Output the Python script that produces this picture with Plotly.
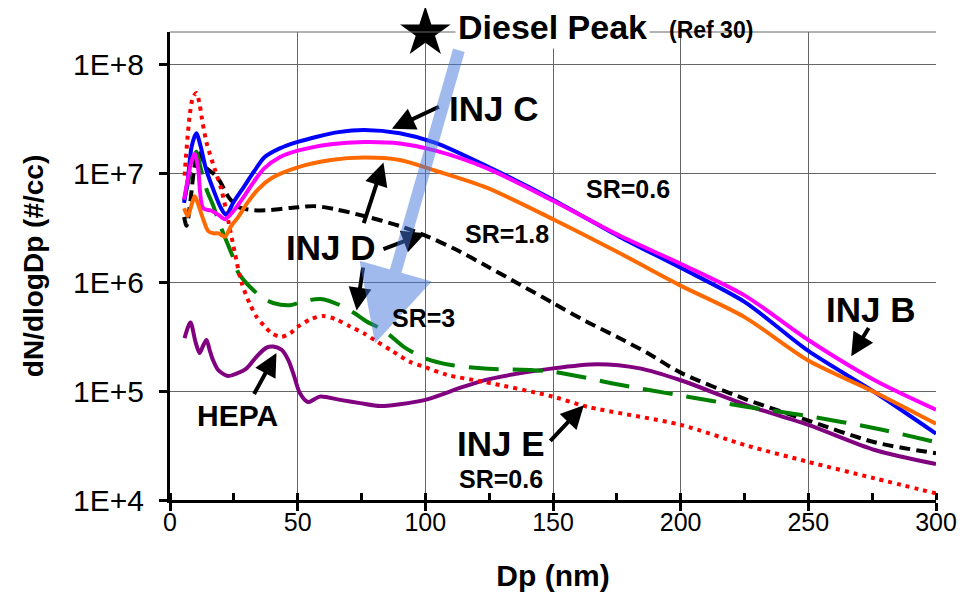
import plotly.graph_objects as go

# ---------------- data ----------------
# Particle diameter Dp (nm) and dN/dlogDp (#/cc)
injc_x = [5.5, 7, 8.5, 10.3, 12, 14, 17, 20, 22, 25, 29, 33, 37, 43, 50, 58, 66, 76, 90, 104,
          124, 150, 176, 200, 225, 250, 276, 300]
injc_y = [5.37e6, 8.91e6, 1.78e7, 2.34e7, 1.78e7, 1.12e7, 7.08e6, 4.79e6, 4.17e6, 5.50e6,
          7.59e6, 1.05e7, 1.41e7, 1.70e7, 1.95e7, 2.19e7, 2.40e7, 2.51e7, 2.34e7, 1.91e7,
          1.17e7, 5.75e6, 2.63e6, 1.36e6, 6.61e5, 2.34e5, 9.77e4, 4.07e4]

injb_x = [5.5, 7, 8.5, 9.7, 11, 13, 16, 19, 21.5, 25, 29, 33, 37, 43, 50, 63, 76, 90, 104,
          124, 150, 176, 200, 225, 250, 276, 300]
injb_y = [5.75e6, 8.91e6, 1.32e7, 1.51e7, 1.12e7, 4.79e6, 4.57e6, 4.17e6, 3.80e6, 4.57e6,
          6.17e6, 8.51e6, 1.12e7, 1.41e7, 1.62e7, 1.86e7, 1.95e7, 1.89e7, 1.62e7, 1.12e7,
          5.62e6, 2.69e6, 1.48e6, 7.59e5, 2.95e5, 1.26e5, 6.76e4]

injd06_x = [5.5, 7, 8.3, 9.7, 11, 13, 15, 17, 19, 21.5, 24, 26.7, 30, 34.5, 40, 50, 63, 76, 90,
            104, 124, 150, 176, 200, 225, 250, 276, 300]
injd06_y = [4.79e6, 4.07e6, 5.01e6, 6.17e6, 5.25e6, 3.80e6, 2.95e6, 2.82e6, 2.82e6, 2.63e6,
            3.31e6, 3.98e6, 5.25e6, 7.16e6, 9.12e6, 1.14e7, 1.33e7, 1.40e7, 1.33e7, 1.06e7,
            7.41e6, 3.80e6, 1.86e6, 9.33e5, 4.79e5, 1.91e5, 9.77e4, 5.01e4]

injd18_x = [5.5, 6.5, 8, 9.5, 11, 12.5, 14.3, 17, 19.5, 23, 27, 35, 48, 57, 65, 76, 90, 100,
            112, 124, 137, 150, 163, 175, 187, 200, 225, 250, 276, 300]
injd18_y = [3.98e6, 3.31e6, 5.62e6, 1.12e7, 1.58e7, 1.41e7, 1.12e7, 1.00e7, 8.51e6, 6.03e6,
            4.90e6, 4.57e6, 4.85e6, 5.01e6, 4.68e6, 4.07e6, 3.29e6, 2.69e6, 2.00e6, 1.41e6,
            9.55e5, 6.46e5, 4.37e5, 3.16e5, 2.24e5, 1.48e5, 8.51e4, 5.37e4, 3.39e4, 2.69e4]

injd3_x = [5.5, 7.7, 10.3, 12, 14.3, 17, 19.5, 22.1, 24.5, 26.7, 30, 33, 36, 40.4, 47, 53, 59,
           66.6, 72, 77, 83.6, 92, 100, 110, 122, 150, 174, 200, 225, 250, 276, 300]
injd3_y = [5.62e6, 9.55e6, 1.58e7, 1.12e7, 7.16e6, 5.01e6, 3.39e6, 2.40e6, 1.74e6, 1.23e6,
           9.77e5, 8.32e5, 7.24e5, 6.46e5, 6.17e5, 6.76e5, 7.03e5, 6.17e5, 5.25e5, 4.37e5,
           3.63e5, 2.51e5, 2.00e5, 1.74e5, 1.62e5, 1.51e5, 1.17e5, 9.12e4, 7.24e4, 5.89e4,
           4.57e4, 3.39e4]

inje_x = [5.7, 7.7, 9, 10.3, 11.5, 12.3, 14.3, 17.5, 20.1, 22.7, 25.4, 28, 31.3, 34, 37.1, 40,
          43.5, 47, 50.2, 55, 60, 65, 70.5, 76, 81, 87, 94, 100, 108.5, 122.8, 150, 163.5, 200,
          226, 250, 276, 300]
inje_y = [9.55e6, 3.39e7, 5.01e7, 5.50e7, 4.47e7, 3.39e7, 1.93e7, 1.10e7, 7.16e6, 3.80e6,
          1.86e6, 1.00e6, 6.31e5, 4.79e5, 3.93e5, 3.39e5, 3.16e5, 3.39e5, 3.93e5, 4.57e5,
          4.90e5, 4.57e5, 3.93e5, 3.39e5, 2.86e5, 2.34e5, 1.86e5, 1.66e5, 1.41e5, 1.22e5,
          8.91e4, 7.18e4, 4.90e4, 3.16e4, 2.24e4, 1.58e4, 1.15e4]

hepa_x = [5.7, 8, 10, 11.6, 13, 14.3, 15.5, 16.8, 19, 22.7, 26, 30, 34, 37.8, 40.4, 43.7, 46.3,
          48.3, 50.9, 54, 58.7, 66.6, 74.4, 82.3, 90, 100, 115, 125, 150, 167.4, 184, 200, 226,
          250, 276, 300]
hepa_y = [3.07e5, 4.27e5, 2.82e5, 2.24e5, 2.63e5, 2.95e5, 2.40e5, 1.94e5, 1.55e5, 1.38e5,
          1.45e5, 1.62e5, 2.09e5, 2.51e5, 2.57e5, 2.40e5, 1.94e5, 1.45e5, 9.55e4, 7.94e4,
          8.91e4, 8.32e4, 7.76e4, 7.29e4, 7.59e4, 8.32e4, 1.10e5, 1.29e5, 1.62e5, 1.77e5,
          1.62e5, 1.26e5, 7.41e4, 4.90e4, 2.88e4, 2.14e4]

diesel_x = [100]
diesel_y = [1.97e8]

y_tickvals = [1e4, 1e5, 1e6, 1e7, 1e8]
y_ticktext = ["1E+4", "1E+5", "1E+6", "1E+7", "1E+8"]
x_tickvals = [0, 50, 100, 150, 200, 250, 300]

FONT = "Liberation Sans, Arial, sans-serif"

fig = go.Figure()

def add_line(x, y, name, color, dash="solid", width=4):
    fig.add_trace(go.Scatter(x=x, y=y, name=name, mode="lines",
                             line=dict(color=color, width=width, dash=dash,
                                       shape="spline", smoothing=0.8)))

add_line(hepa_x, hepa_y, "HEPA", "#800080")
add_line(injd18_x, injd18_y, "INJ D SR=1.8", "#000000", dash="11px,6px")
add_line(injd3_x, injd3_y, "INJ D SR=3", "#008000", dash="30px,14px")
add_line(inje_x, inje_y, "INJ E SR=0.6", "#FF0000", dash="4px,5px", width=4)
add_line(injc_x, injc_y, "INJ C SR=0.6", "#0000FF")
add_line(injb_x, injb_y, "INJ B SR=0.6", "#FF00FF")
add_line(injd06_x, injd06_y, "INJ D SR=0.6", "#FF6A00")

fig.add_trace(go.Scatter(x=diesel_x, y=diesel_y, mode="markers", name="Diesel Peak (Ref 30)",
                         marker=dict(symbol="star", size=38, color="black"),
                         cliponaxis=False))

ann = []
# small black arrows (tail -> tip), y in log10 units
arrows = [
    ((105.9, 7.62), (86.9, 7.41)),    # INJ C
    ((75.7, 6.53), (83.6, 7.10)),     # INJ D -> SR=0.6
    ((83.0, 6.30), (100.0, 6.45)),    # INJ D -> SR=1.8
    ((75.7, 6.15), (73.1, 5.74)),     # INJ D -> SR=3
    ((274.0, 5.594), (266.8, 5.32)),  # INJ B
    ((148.4, 4.53), (162.1, 4.87)),   # INJ E
    ((32.6, 4.96), (41.7, 5.35)),     # HEPA
]
for (tx, ty), (hx, hy) in arrows:
    ann.append(dict(x=hx, y=hy, ax=tx, ay=ty, xref="x", yref="y", axref="x", ayref="y",
                    text="", showarrow=True, arrowhead=2, arrowsize=1.15, arrowwidth=4,
                    arrowcolor="black"))
# big translucent arrow
ann.append(dict(x=80.3, y=5.44, ax=113.3, ay=8.146, xref="x", yref="y", axref="x", ayref="y",
                text="", showarrow=True, arrowhead=2, arrowsize=1.25, arrowwidth=12,
                arrowcolor="rgba(70,120,220,0.5)"))

def label(txt, x, y, size):
    ann.append(dict(x=x, y=y, xref="x", yref="y", text="<b>%s</b>" % txt, showarrow=False,
                    font=dict(family=FONT, size=size, color="black")))

label("INJ C", 126.7, 7.593, 35)
label("INJ D", 62.8, 6.318, 35)
label("INJ B", 274.3, 5.75, 35)
label("INJ E", 129.6, 4.52, 35)
label("HEPA", 26.3, 4.78, 30)
label("SR=0.6", 179.5, 6.855, 25)
label("SR=1.8", 131.8, 6.44, 25)
label("SR=3", 99.2, 5.67, 25)
label("SR=0.6", 129.6, 4.197, 25)

ann.append(dict(x=149.8, y=1.0107, xref="x", yref="paper", text="<b>Diesel Peak</b>",
                showarrow=False, bgcolor="white", borderpad=2, yanchor="middle",
                font=dict(family=FONT, size=34, color="black")))
ann.append(dict(x=211.9, y=1.004, xref="x", yref="paper", text="<b>(Ref 30)</b>",
                showarrow=False, yanchor="middle",
                font=dict(family=FONT, size=23, color="black")))

# the page body has an 8px margin, so offset left/top margins by 8px
fig.update_layout(
    width=975, height=603,
    margin=dict(l=162, r=47, t=24, b=111),
    paper_bgcolor="white", plot_bgcolor="white",
    showlegend=False,
    annotations=ann,
    shapes=[dict(type="line", xref="paper", yref="paper", x0=0, x1=1, y0=1, y1=1,
                 line=dict(color="#666666", width=1))],
    font=dict(family=FONT, color="black"),
)

fig.update_xaxes(
    range=[0, 300], tickvals=x_tickvals, showgrid=True, gridcolor="#666666", gridwidth=1,
    showline=True, linecolor="black", linewidth=3, zeroline=False,
    ticks="outside", ticklen=8, tickwidth=3, tickcolor="black",
    ticklabelstandoff=-10,
    tickfont=dict(family=FONT, size=25, color="black"),
    minor=dict(dtick=25, tick0=0, ticks="inside", ticklen=7, tickwidth=3, tickcolor="black",
               showgrid=False),
    title=dict(text="<b>Dp (nm)</b>", font=dict(family=FONT, size=30, color="black"),
               standoff=30),
)
fig.update_yaxes(
    type="log", range=[4, 8.30], tickvals=y_tickvals, ticktext=y_ticktext,
    showgrid=True, gridcolor="#666666", gridwidth=1,
    showline=True, linecolor="black", linewidth=3, zeroline=False,
    ticks="outside", ticklen=8, tickwidth=3, tickcolor="black",
    ticklabelstandoff=9,
    tickfont=dict(family=FONT, size=30, color="black"),
    title=dict(text="<b>dN/dlogDp (#/cc)</b>", font=dict(family=FONT, size=28, color="black"),
               standoff=22),
)

fig.write_html("out.html")
